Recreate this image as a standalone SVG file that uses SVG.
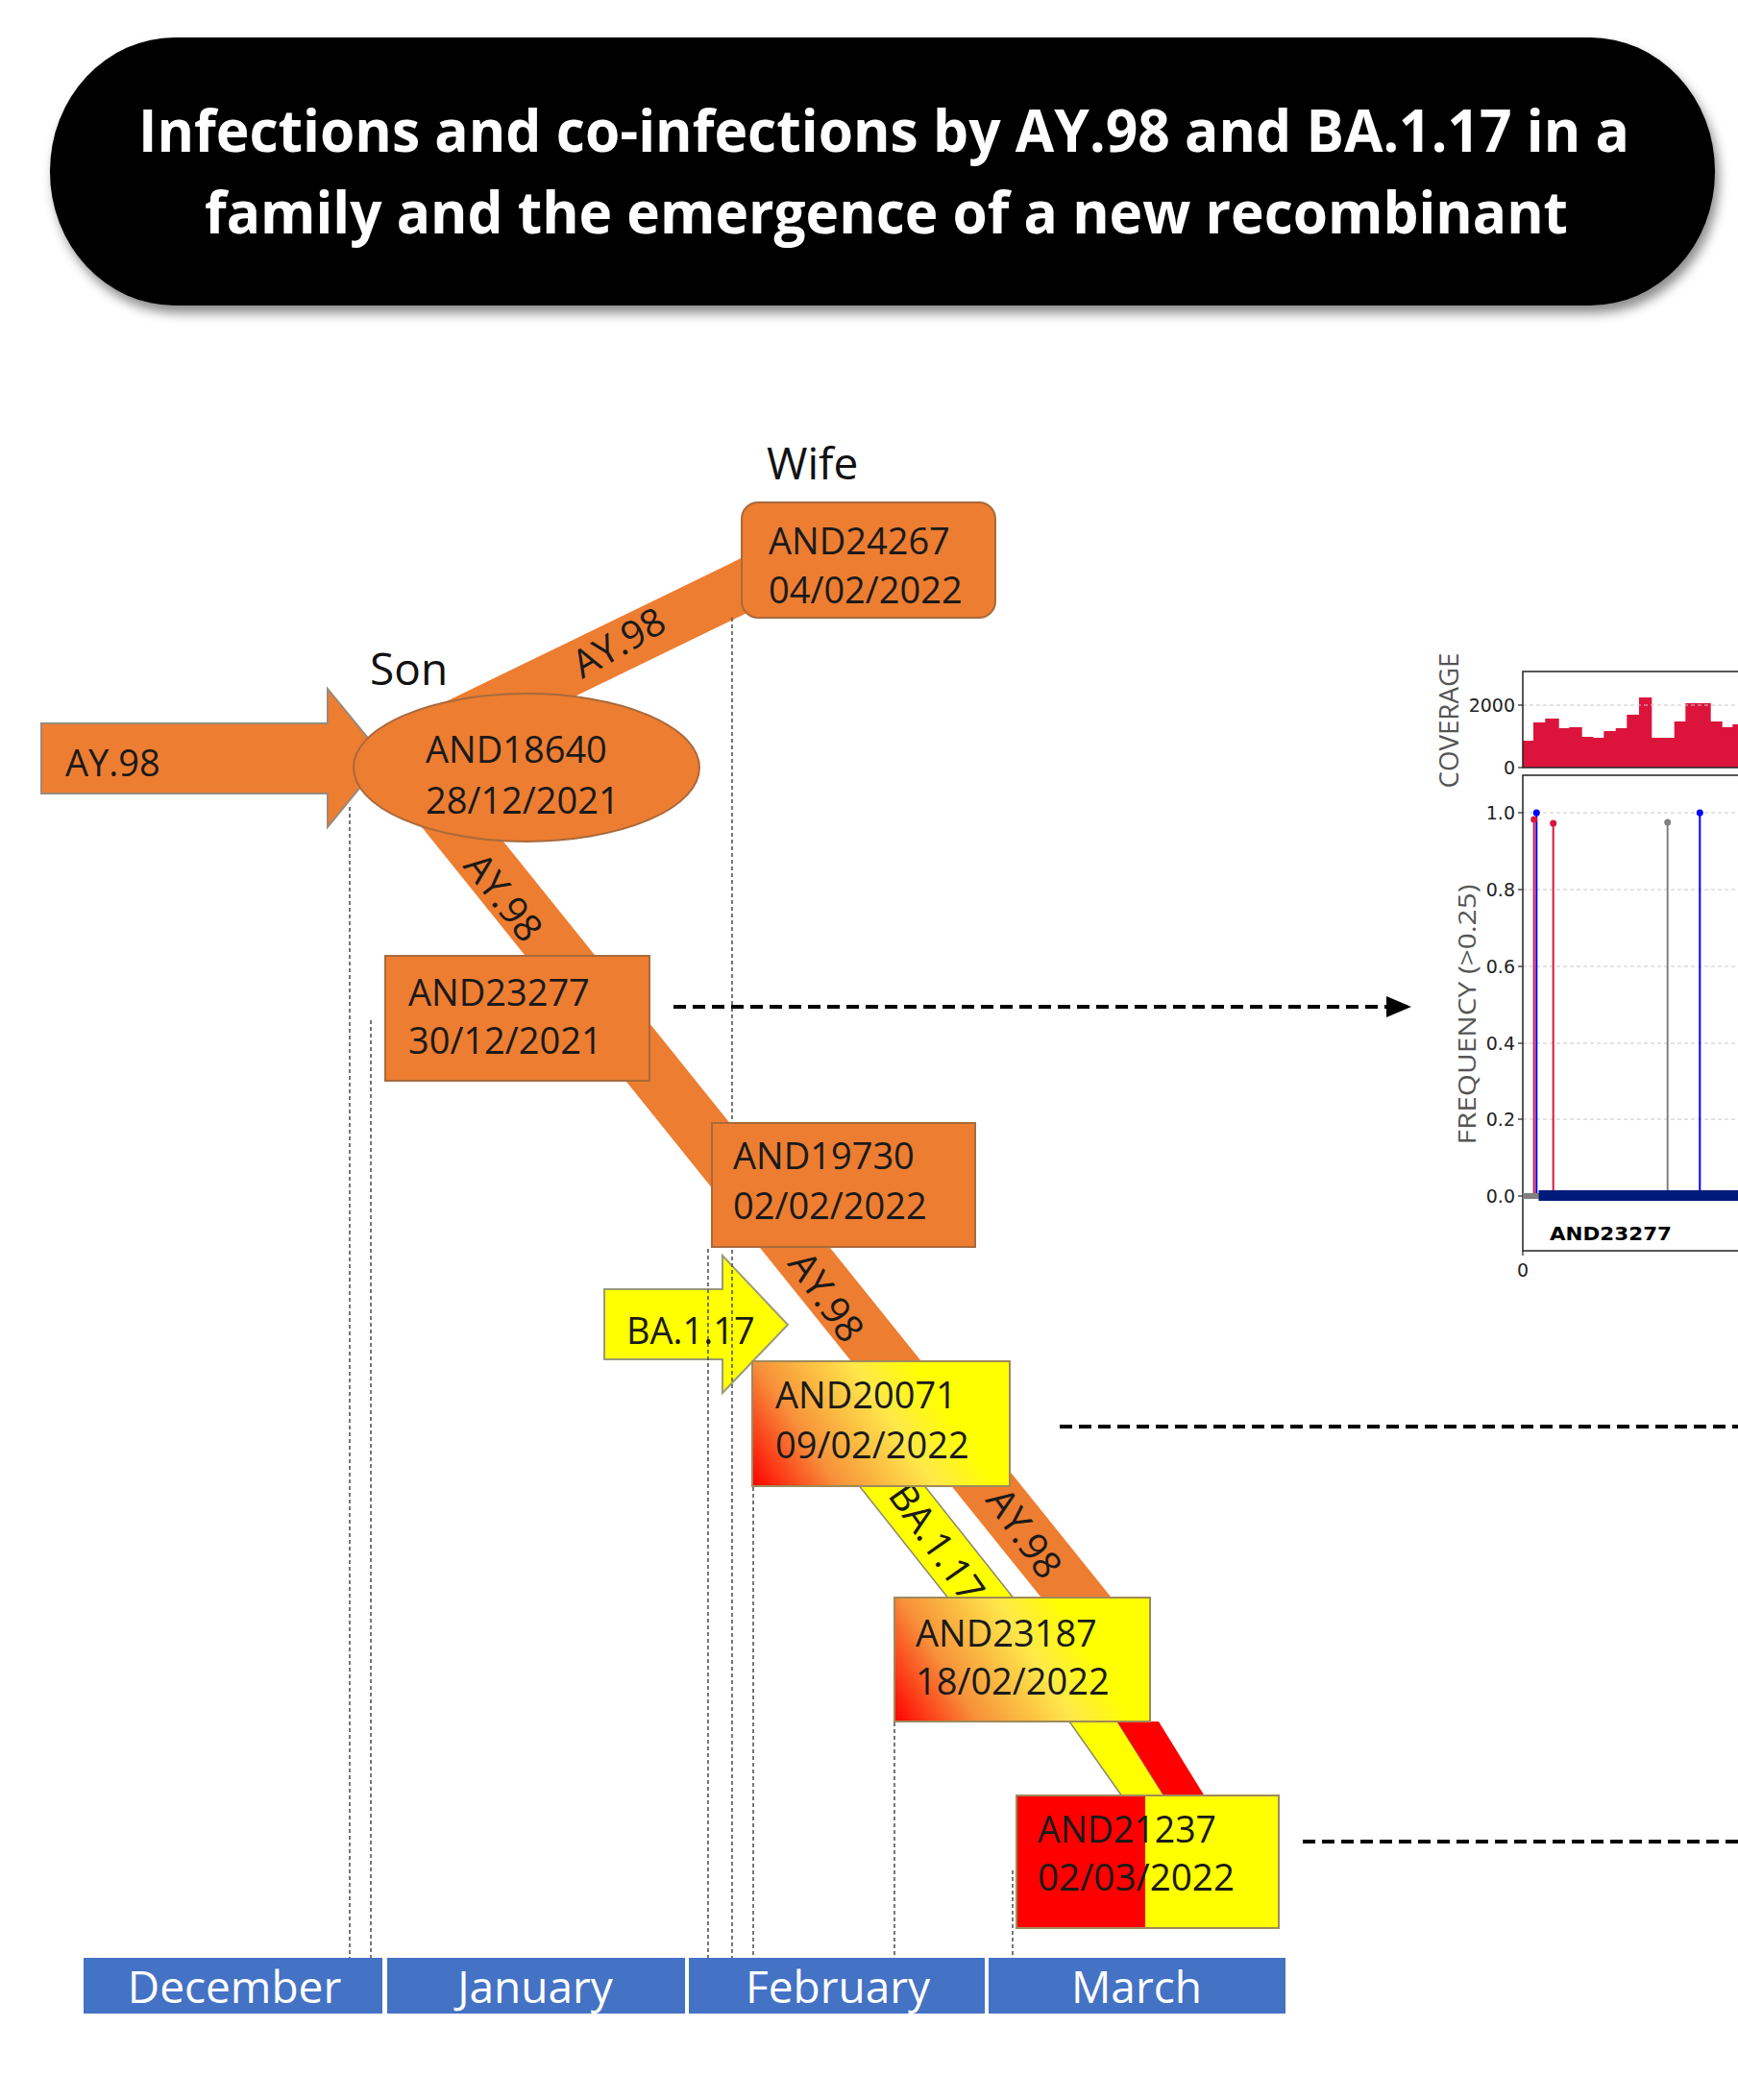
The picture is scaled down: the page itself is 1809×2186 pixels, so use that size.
<svg xmlns="http://www.w3.org/2000/svg" width="1809" height="2186" viewBox="0 0 1809 2186">
<defs>
<style>
.n{font-family:"Open Sans","Liberation Sans",sans-serif;font-size:38px;fill:#1a1a1a}
.lb{font-family:"Open Sans","Liberation Sans",sans-serif;font-size:40px;fill:#1a1a1a;text-anchor:middle}
.who{font-family:"Open Sans","Liberation Sans",sans-serif;font-size:46px;fill:#111}
.mo{font-family:"Open Sans","Liberation Sans",sans-serif;font-size:46px;fill:#fff;text-anchor:middle}
.ttl{font-family:"Open Sans","Liberation Sans",sans-serif;font-size:60px;font-weight:bold;fill:#fff}
.tk{font-family:"DejaVu Sans",sans-serif;font-size:19px;fill:#222;text-anchor:end}
.ax{font-family:"Open Sans","Liberation Sans",sans-serif;fill:#555;text-anchor:middle}
.dot{stroke:#555;stroke-width:1.6;stroke-dasharray:4 3;fill:none}
.dash{stroke:#000;stroke-width:4;stroke-dasharray:13 7;fill:none}
.grid{stroke:#c8c8c8;stroke-width:1;stroke-dasharray:4 3}
.or{fill:#ED7D31;stroke:#A86A3C;stroke-width:2}
</style>
<filter id="sh" x="-5%" y="-10%" width="112%" height="130%">
<feDropShadow dx="4" dy="8" stdDeviation="6" flood-color="#000" flood-opacity="0.45"/>
</filter>
<linearGradient id="g1" gradientUnits="userSpaceOnUse" x1="783" y1="1547" x2="960" y2="1430">
<stop offset="0" stop-color="#FF0000"/>
<stop offset="0.35" stop-color="#F7903A"/>
<stop offset="0.75" stop-color="#FFE84A"/>
<stop offset="1" stop-color="#FFFF00"/>
</linearGradient>
<linearGradient id="g2" gradientUnits="userSpaceOnUse" x1="931" y1="1792" x2="1110" y2="1680">
<stop offset="0" stop-color="#FF0000"/>
<stop offset="0.35" stop-color="#F7903A"/>
<stop offset="0.75" stop-color="#FFE84A"/>
<stop offset="1" stop-color="#FFFF00"/>
</linearGradient>
</defs>
<rect width="1809" height="2186" fill="#fff"/>

<g id="title">
<rect x="52" y="39" width="1733" height="279" rx="130" ry="139" fill="#000" filter="url(#sh)"/>
<text class="ttl" x="144" y="158" textLength="1552" lengthAdjust="spacingAndGlyphs">Infections and co-infections by AY.98 and BA.1.17 in a</text>
<text class="ttl" x="213" y="243" textLength="1419" lengthAdjust="spacingAndGlyphs">family and the emergence of a new recombinant</text>
</g>

<g id="connectors">
<polygon points="430,747 790,572 790,632 520,763" fill="#ED7D31"/>
<polygon points="406,820 479,820 1160,1667 1087,1667" fill="#ED7D31"/>
<polygon points="889,1540 957,1540 1060,1670 992,1670" fill="#FFFF00" stroke="#8a8a6a" stroke-width="1.5"/>
<polygon points="1113,1792 1163,1792 1212,1870 1168,1870" fill="#FFFF00" stroke="#8a8a6a" stroke-width="1.5"/>
<polygon points="1163,1792 1206,1792 1254,1870 1212,1870" fill="#FF0000"/>
<polygon points="43,753 341,753 341,717 400,789 341,861 341,826 43,826" fill="#ED7D31" stroke="#9a8a7a" stroke-width="2"/>
<polygon points="629,1342 752,1342 752,1307 820,1379 752,1450 752,1415 629,1415" fill="#FFFF00" stroke="#9a9a7a" stroke-width="2"/>
<line class="dot" x1="364" y1="840" x2="364" y2="2038"/>
<line class="dot" x1="386" y1="1062" x2="386" y2="2038"/>
<line class="dot" x1="737" y1="1300" x2="737" y2="2038"/>
<line class="dot" x1="762" y1="643" x2="762" y2="2038"/>
<line class="dot" x1="784" y1="1548" x2="784" y2="2038"/>
<line class="dot" x1="931" y1="1793" x2="931" y2="2038"/>
<line class="dot" x1="1054" y1="1947" x2="1054" y2="2038"/>
<line class="dash" x1="701" y1="1048" x2="1446" y2="1048"/>
<polygon points="1443,1037 1469,1048 1443,1059" fill="#000"/>
<line class="dash" x1="1103" y1="1485" x2="1809" y2="1485"/>
<line class="dash" x1="1356" y1="1917" x2="1809" y2="1917"/>
<text class="n" x="68" y="808">AY.98</text>
<text class="lb" transform="translate(644,669) rotate(-30)" y="14">AY.98</text>
<text class="lb" transform="translate(524,934) rotate(52)" y="14">AY.98</text>
<text class="lb" transform="translate(860,1350) rotate(55)" y="14">AY.98</text>
<text class="lb" transform="translate(1066,1596) rotate(55)" y="14">AY.98</text>
<text class="lb" transform="translate(975,1606) rotate(55)" y="14">BA.1.17</text>
<text class="n" x="652" y="1399">BA.1.17</text>
</g>

<g id="wife">
<text class="who" x="798" y="499">Wife</text>
<rect class="or" x="772" y="523" width="264" height="120" rx="17"/>
<text class="n" x="800" y="577">AND24267</text>
<text class="n" x="800" y="628">04/02/2022</text>
</g>

<g id="son">
<text class="who" x="385" y="713">Son</text>
<ellipse class="or" cx="548" cy="799" rx="180" ry="77"/>
<text class="n" x="443" y="794">AND18640</text>
<text class="n" x="443" y="847">28/12/2021</text>
</g>

<g id="and23277">
<rect class="or" x="401" y="995" width="275" height="130"/>
<text class="n" x="425" y="1047">AND23277</text>
<text class="n" x="425" y="1097">30/12/2021</text>
</g>

<g id="and19730">
<rect class="or" x="741" y="1169" width="274" height="129"/>
<text class="n" x="763" y="1217">AND19730</text>
<text class="n" x="763" y="1269">02/02/2022</text>
</g>

<g id="and20071">
<rect x="783" y="1417" width="268" height="130" fill="url(#g1)" stroke="#a08a5a" stroke-width="2"/>
<text class="n" x="807" y="1466">AND20071</text>
<text class="n" x="807" y="1518">09/02/2022</text>
</g>

<g id="and23187">
<rect x="931" y="1663" width="266" height="129" fill="url(#g2)" stroke="#a08a5a" stroke-width="2"/>
<text class="n" x="953" y="1714">AND23187</text>
<text class="n" x="953" y="1764">18/02/2022</text>
</g>

<g id="and21237">
<rect x="1058" y="1869" width="134" height="138" fill="#FF0000"/>
<rect x="1192" y="1869" width="139" height="138" fill="#FFFF00"/>
<rect x="1058" y="1869" width="273" height="138" fill="none" stroke="#a08a5a" stroke-width="2"/>
<text class="n" x="1080" y="1918" textLength="186" lengthAdjust="spacingAndGlyphs">AND21237</text>
<text class="n" x="1080" y="1968" textLength="205" lengthAdjust="spacingAndGlyphs">02/03/2022</text>
</g>

<g id="months">
<rect x="87" y="2038" width="311" height="58" fill="#4472C4"/>
<rect x="403" y="2038" width="310" height="58" fill="#4472C4"/>
<rect x="717" y="2038" width="308" height="58" fill="#4472C4"/>
<rect x="1029" y="2038" width="309" height="58" fill="#4472C4"/>
<text class="mo" x="244" y="2085">December</text>
<text class="mo" x="557" y="2085">January</text>
<text class="mo" x="872" y="2085">February</text>
<text class="mo" x="1183" y="2085">March</text>
</g>

<g id="chart">
<path d="M1585,799 V771 H1596 V752 H1608.3 V748 H1622.7 V758 H1633.3 V757 H1646.7 V767 H1658.3 V768 H1669.3 V761 H1681.7 V758 H1693.3 V744 H1706 V726 H1719.3 V768 H1742.7 V751 H1754.3 V732 H1780.7 V751 H1792.7 V757 H1803.3 V754 H1809 V799 Z" fill="#DC143C"/>
<line class="grid" x1="1585" y1="734" x2="1809" y2="734"/>
<path d="M1809,699 H1585 V799 H1809" fill="none" stroke="#222" stroke-width="1.5"/>
<line x1="1580" y1="734" x2="1585" y2="734" stroke="#222" stroke-width="1.2"/>
<line x1="1580" y1="799" x2="1585" y2="799" stroke="#222" stroke-width="1.2"/>
<text class="tk" x="1577" y="741">2000</text>
<text class="tk" x="1577" y="806">0</text>
<text class="ax" font-size="28" transform="translate(1518,750) rotate(-90)" textLength="141" lengthAdjust="spacingAndGlyphs">COVERAGE</text>

<line class="grid" x1="1585" y1="846" x2="1809" y2="846"/>
<line class="grid" x1="1585" y1="926" x2="1809" y2="926"/>
<line class="grid" x1="1585" y1="1006" x2="1809" y2="1006"/>
<line class="grid" x1="1585" y1="1086" x2="1809" y2="1086"/>
<line class="grid" x1="1585" y1="1165" x2="1809" y2="1165"/>
<path d="M1809,807 H1585 V1302 H1809" fill="none" stroke="#222" stroke-width="1.5"/>
<g stroke="#222" stroke-width="1.2">
<line x1="1580" y1="846" x2="1585" y2="846"/>
<line x1="1580" y1="926" x2="1585" y2="926"/>
<line x1="1580" y1="1006" x2="1585" y2="1006"/>
<line x1="1580" y1="1086" x2="1585" y2="1086"/>
<line x1="1580" y1="1165" x2="1585" y2="1165"/>
<line x1="1580" y1="1245" x2="1585" y2="1245"/>
<line x1="1585" y1="1302" x2="1585" y2="1307"/>
</g>
<text class="tk" x="1577" y="853">1.0</text>
<text class="tk" x="1577" y="933">0.8</text>
<text class="tk" x="1577" y="1013">0.6</text>
<text class="tk" x="1577" y="1093">0.4</text>
<text class="tk" x="1577" y="1172">0.2</text>
<text class="tk" x="1577" y="1252">0.0</text>
<text class="tk" x="1591" y="1329">0</text>
<text class="ax" font-size="26" transform="translate(1536,1056) rotate(-90)" textLength="271" lengthAdjust="spacingAndGlyphs">FREQUENCY (&gt;0.25)</text>

<line x1="1596.7" y1="1245" x2="1596.7" y2="853" stroke="#DC143C" stroke-width="2"/>
<line x1="1599.3" y1="1245" x2="1599.3" y2="846" stroke="#0000FF" stroke-width="2"/>
<line x1="1616.7" y1="1245" x2="1616.7" y2="857" stroke="#DC143C" stroke-width="2"/>
<line x1="1735.7" y1="1245" x2="1735.7" y2="856" stroke="#808080" stroke-width="2"/>
<line x1="1769.3" y1="1245" x2="1769.3" y2="846" stroke="#0000FF" stroke-width="2"/>
<circle cx="1596.7" cy="853" r="3.5" fill="#DC143C"/>
<circle cx="1599.3" cy="846" r="3.5" fill="#0000FF"/>
<circle cx="1616.7" cy="857" r="3.5" fill="#DC143C"/>
<circle cx="1735.7" cy="856" r="3.5" fill="#808080"/>
<circle cx="1769.3" cy="846" r="3.5" fill="#0000FF"/>
<rect x="1585" y="1242" width="17" height="6" fill="#808080"/>
<rect x="1601.5" y="1239" width="207.5" height="11" fill="#001A7A"/>
<text x="1613" y="1291" font-family="'DejaVu Sans',sans-serif" font-weight="bold" font-size="20" fill="#000" textLength="127" lengthAdjust="spacingAndGlyphs">AND23277</text>
</g>
</svg>
